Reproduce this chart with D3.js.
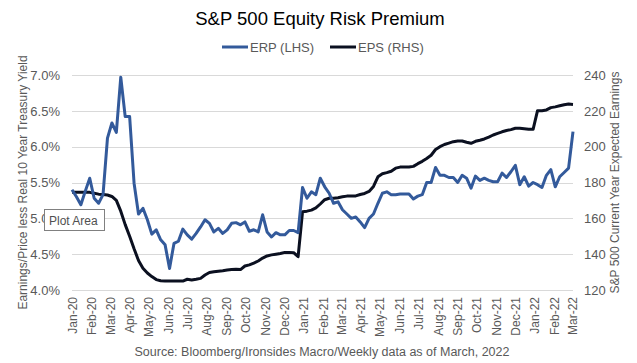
<!DOCTYPE html>
<html>
<head>
<meta charset="utf-8">
<script src="https://cdn.jsdelivr.net/npm/d3@7"></script>
<style>
  body { margin: 0; background: #fff; }
  text { font-family: Arial, "Liberation Sans", sans-serif; }
</style>
</head>
<body>
<div id="chart"></div>
<script>

// weekly observations, Fridays from 3 Jan 2020 to 4 Mar 2022
const weekDates = d3.timeFriday.range(new Date(2020, 0, 3), new Date(2022, 2, 5));

// ERP (LHS), percent
const erpValues = [
    5.40, 5.30, 5.19, 5.38, 5.56, 5.28, 5.21, 5.33, 6.12, 6.33,
    6.20, 6.97, 6.42, 6.42, 5.49, 5.06, 5.14, 4.98, 4.78, 4.84,
    4.70, 4.63, 4.30, 4.65, 4.68, 4.85, 4.77, 4.71, 4.79, 4.88,
    4.98, 4.93, 4.81, 4.86, 4.79, 4.84, 4.93, 4.94, 4.91, 4.95,
    4.82, 4.84, 4.81, 5.05, 4.81, 4.74, 4.80, 4.77, 4.77, 4.83,
    4.83, 4.80, 5.43, 5.28, 5.37, 5.33, 5.56, 5.44, 5.35, 5.21,
    5.23, 5.12, 5.06, 5.00, 5.02, 4.95, 4.87, 5.00, 5.06, 5.21,
    5.35, 5.37, 5.33, 5.33, 5.34, 5.34, 5.34, 5.27, 5.31, 5.33,
    5.50, 5.50, 5.71, 5.60, 5.60, 5.57, 5.57, 5.50, 5.60, 5.56,
    5.42, 5.59, 5.53, 5.56, 5.53, 5.51, 5.51, 5.63, 5.57, 5.65,
    5.74, 5.47, 5.58, 5.45, 5.50, 5.47, 5.43, 5.60, 5.68, 5.44,
    5.58, 5.64, 5.70, 6.21
];

// EPS (RHS), current year expected earnings
const epsValues = [
    174.5, 174.5, 174.5, 174.5, 174.5, 174.0, 173.5, 173.3, 173.0, 172.2,
    170.0, 164.0, 156.5, 150.0, 143.0, 136.5, 132.2, 129.5, 127.5, 125.8,
    125.2, 125.0, 125.0, 125.0, 125.0, 125.0, 126.0, 125.6, 126.0, 126.5,
    128.4, 129.8, 130.2, 130.5, 130.8, 131.2, 131.5, 131.6, 131.4, 133.4,
    134.0, 135.0, 136.2, 137.8, 139.0, 139.6, 140.0, 140.4, 141.0, 141.0,
    140.8, 138.6, 163.7, 164.0, 164.6, 165.8, 168.0, 170.4, 171.2, 171.2,
    171.5, 172.0, 172.4, 172.5, 172.5, 173.3, 173.9, 175.0, 177.8, 183.2,
    184.9, 185.5, 186.3, 188.0, 188.6, 188.6, 188.6, 189.0, 190.5, 191.8,
    193.4, 195.2, 198.4, 200.0, 201.2, 202.0, 202.8, 203.2, 203.2, 202.5,
    201.9, 203.0, 203.6, 204.3, 205.3, 206.5, 207.4, 208.3, 209.0, 209.5,
    210.3, 210.3, 210.0, 209.7, 209.7, 220.1, 220.1, 220.5, 221.8, 222.2,
    222.8, 223.4, 223.8, 223.6
];

const xTickLabels = [
    "Jan-20", "Feb-20", "Mar-20", "Apr-20", "May-20", "Jun-20", "Jul-20",
    "Aug-20", "Sep-20", "Oct-20", "Nov-20", "Dec-20", "Jan-21", "Feb-21",
    "Mar-21", "Apr-21", "May-21", "Jun-21", "Jul-21", "Aug-21", "Sep-21",
    "Oct-21", "Nov-21", "Dec-21", "Jan-22", "Feb-22", "Mar-22"
];
const leftTicks = [4.0, 4.5, 5.0, 5.5, 6.0, 6.5, 7.0];
const rightTicks = [120, 140, 160, 180, 200, 220, 240];

const seriesNames = ["ERP (LHS)", "EPS (RHS)"];
const seriesColors = ["#335a9b", "#0b1020"];


class RiskPremiumChart {

    constructor(parentElement, width, height) {
        this.parentElement = parentElement;
        this.width = width;
        this.height = height;
        this.initVis();
    }

    initVis() {
        let vis = this;

        vis.plot = {left: 72, right: 573, top: 75, bottom: 290};

        vis.svg = d3.select("#" + vis.parentElement).append("svg")
            .attr("width", vis.width)
            .attr("height", vis.height);

        // axis ticks sit on the 3rd of each month, like the weekly date axis
        let parseMonth = d3.timeParse("%b-%y");
        vis.tickDates = xTickLabels.map(l => d3.timeDay.offset(parseMonth(l), 2));

        vis.x = d3.scaleTime()
            .domain([weekDates[0], weekDates[weekDates.length - 1]])
            .range([vis.plot.left, vis.plot.right]);

        vis.yLeft = d3.scaleLinear()
            .domain([leftTicks[0], leftTicks[leftTicks.length - 1]])
            .range([vis.plot.bottom, vis.plot.top]);

        vis.yRight = d3.scaleLinear()
            .domain([rightTicks[0], rightTicks[rightTicks.length - 1]])
            .range([vis.plot.bottom, vis.plot.top]);

        vis.updateVis();
    }

    updateVis() {
        let vis = this;
        let grey = "#595959";

        // gridlines
        vis.svg.append("g")
            .selectAll("line")
            .data(leftTicks)
            .join("line")
            .attr("x1", vis.plot.left)
            .attr("x2", vis.plot.right)
            .attr("y1", d => Math.round(vis.yLeft(d)) + 0.5)
            .attr("y2", d => Math.round(vis.yLeft(d)) + 0.5)
            .attr("stroke", "#d9d9d9")
            .attr("stroke-width", 1);

        // left axis
        let leftAxis = d3.axisLeft(vis.yLeft)
            .tickValues(leftTicks)
            .tickFormat(d => d3.format(".1f")(d) + "%")
            .tickSize(0)
            .tickPadding(12);
        vis.svg.append("g")
            .attr("transform", "translate(" + vis.plot.left + ",0)")
            .call(leftAxis)
            .call(g => g.select(".domain").remove())
            .selectAll("text")
            .attr("font-size", 13)
            .attr("fill", grey);

        // right axis
        let rightAxis = d3.axisRight(vis.yRight)
            .tickValues(rightTicks)
            .tickSize(0)
            .tickPadding(11);
        vis.svg.append("g")
            .attr("transform", "translate(" + vis.plot.right + ",0)")
            .call(rightAxis)
            .call(g => g.select(".domain").remove())
            .selectAll("text")
            .attr("font-size", 13)
            .attr("fill", grey);

        // x axis, rotated month labels
        vis.svg.append("g")
            .selectAll("text")
            .data(vis.tickDates)
            .join("text")
            .attr("transform", (d, i) => "translate(" + (vis.x(d) + 4.5) + "," + (vis.plot.bottom + 7) + ") rotate(-90)")
            .attr("text-anchor", "end")
            .attr("font-size", 12)
            .attr("fill", grey)
            .text((d, i) => xTickLabels[i]);

        // lines
        let erpLine = d3.line()
            .x((d, i) => vis.x(weekDates[i]))
            .y(d => vis.yLeft(d));

        let epsLine = d3.line()
            .x((d, i) => vis.x(weekDates[i]))
            .y(d => vis.yRight(d));

        vis.svg.append("path")
            .datum(epsValues)
            .attr("d", epsLine)
            .attr("fill", "none")
            .attr("stroke", seriesColors[1])
            .attr("stroke-width", 3)
            .attr("stroke-linejoin", "round");

        vis.svg.append("path")
            .datum(erpValues)
            .attr("d", erpLine)
            .attr("fill", "none")
            .attr("stroke", seriesColors[0])
            .attr("stroke-width", 3)
            .attr("stroke-linejoin", "round");

        // title
        vis.svg.append("text")
            .attr("x", 320)
            .attr("y", 25)
            .attr("text-anchor", "middle")
            .attr("font-size", 18.5)
            .attr("fill", "#000")
            .text("S&P 500 Equity Risk Premium");

        // legend
        let legend = vis.svg.append("g")
            .selectAll("g")
            .data(seriesNames)
            .join("g")
            .attr("transform", (d, i) => "translate(" + (222 + i * 108) + ",47)");
        legend.append("line")
            .attr("x1", 0).attr("x2", 26)
            .attr("stroke", (d, i) => seriesColors[i])
            .attr("stroke-width", 3);
        legend.append("text")
            .attr("x", 28)
            .attr("y", 5)
            .attr("font-size", 13)
            .attr("fill", grey)
            .text(d => d);

        // axis titles
        vis.svg.append("text")
            .attr("transform", "translate(27," + ((vis.plot.top + vis.plot.bottom) / 2) + ") rotate(-90)")
            .attr("text-anchor", "middle")
            .attr("font-size", 12)
            .attr("fill", grey)
            .text("Earnings/Price less Real 10 Year Treasury Yield");

        vis.svg.append("text")
            .attr("transform", "translate(619," + ((vis.plot.top + vis.plot.bottom) / 2) + ") rotate(-90)")
            .attr("text-anchor", "middle")
            .attr("font-size", 12)
            .attr("fill", grey)
            .text("S&P 500 Current Year Expected Earnings");

        // source note
        vis.svg.append("text")
            .attr("x", 322)
            .attr("y", 356)
            .attr("text-anchor", "middle")
            .attr("font-size", 12.5)
            .attr("fill", grey)
            .text("Source: Bloomberg/Ironsides Macro/Weekly data as of March, 2022");

        // hover tooltip captured in the screenshot
        let tip = vis.svg.append("g").attr("transform", "translate(44,209)");
        tip.append("rect")
            .attr("x", 0.5).attr("y", 0.5)
            .attr("width", 60).attr("height", 21)
            .attr("fill", "#fff")
            .attr("stroke", "#808080");
        tip.append("text")
            .attr("x", 5)
            .attr("y", 15.5)
            .attr("font-family", "'Noto Sans', 'Open Sans', sans-serif")
            .attr("font-size", 12)
            .attr("fill", "#505050")
            .text("Plot Area");
    }
}

new RiskPremiumChart("chart", 637, 363);
</script>
</body>
</html>
